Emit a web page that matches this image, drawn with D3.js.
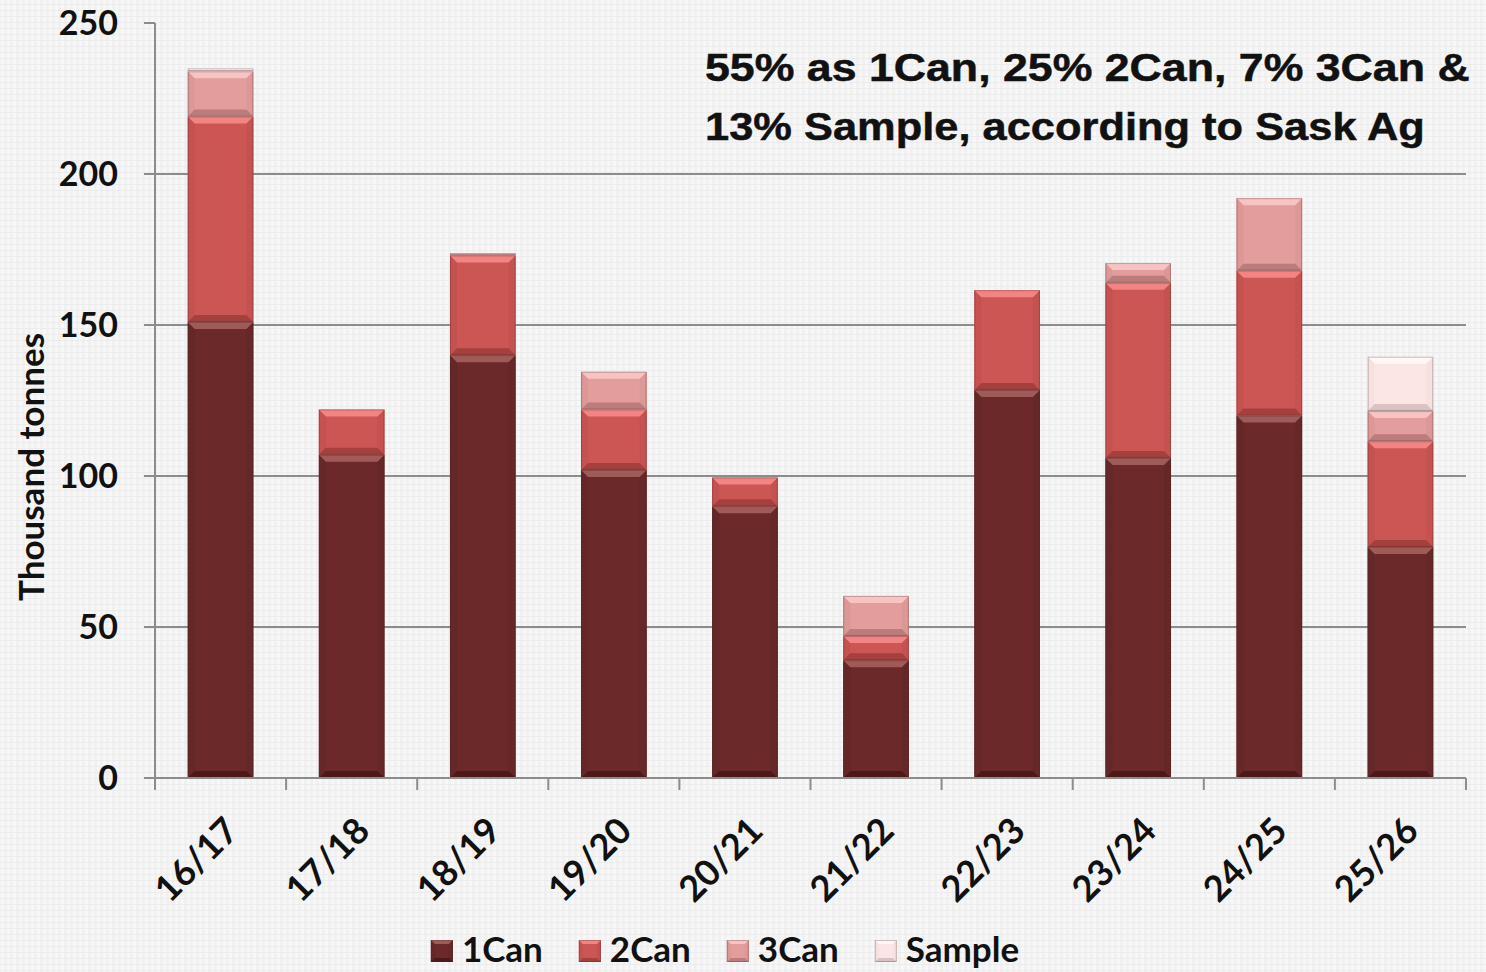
<!DOCTYPE html>
<html>
<head>
<meta charset="utf-8">
<script src="https://cdn.jsdelivr.net/npm/d3@7"></script>
<style>
  html, body { margin: 0; padding: 0; background: #f2f2f2; }
  svg { display: block; }
</style>
</head>
<body>
<svg id="chart" width="1486" height="972"></svg>
<script>
// Canola deliveries by grade, thousand tonnes per crop year
const seasons = ["16/17", "17/18", "18/19", "19/20", "20/21", "21/22", "22/23", "23/24", "24/25", "25/26"];
const can1   = [151, 107, 140, 102, 90, 39, 128.5, 106, 120, 76.5];
const can2   = [68, 15, 33, 20, 9.5, 8, 33, 58, 48, 35];
const can3   = [15, 0, 0.8, 12.5, 0, 13.3, 0, 6.5, 24, 10];
const sample = [1, 0, 0, 0, 0, 0, 0, 0, 0, 18];
const gradeNames = ["1Can", "2Can", "3Can", "Sample"];
const yTicks = [0, 50, 100, 150, 200, 250];
const gridValues = [50, 100, 150, 200];
const yTitle = "Thousand tonnes";
const noteLines = ["55% as 1Can, 25% 2Can, 7% 3Can &", "13% Sample, according to Sask Ag"];

// Bevelled fill palette per grade
const palette = {
  "1Can":   { face: "#6b2929", top: "#a05a58", bottom: "#4c1818", side: "#652727" },
  "2Can":   { face: "#cc5653", top: "#f28584", bottom: "#a4403e", side: "#c55250" },
  "3Can":   { face: "#e29d9c", top: "#f7c4c3", bottom: "#bb7c7b", side: "#dc9797" },
  "Sample": { face: "#fce5e5", top: "#fff6f6", bottom: "#d9c2c2", side: "#f7e0e0" }
};

const rows = seasons.map((s, i) => ({
  season: s, "1Can": can1[i], "2Can": can2[i], "3Can": can3[i], "Sample": sample[i]
}));

const svg = d3.select("#chart");
const W = 1486, H = 972;

// Background with fine woven texture
const defs = svg.append("defs");
const pat = defs.append("pattern").attr("id", "weave")
  .attr("width", 6).attr("height", 6).attr("patternUnits", "userSpaceOnUse");
pat.append("rect").attr("width", 6).attr("height", 6).attr("fill", "#f1f1f1");
pat.append("rect").attr("x", 1).attr("width", 3).attr("height", 6).attr("fill", "#f7f7f7");
pat.append("rect").attr("y", 4).attr("width", 6).attr("height", 1).attr("fill", "#ececec");
svg.append("rect").attr("width", W).attr("height", H).attr("fill", "url(#weave)");

const plot = { left: 155, right: 1466, top: 23, bottom: 778 };

const x = d3.scaleBand().domain(seasons)
  .range([plot.left, plot.right]).paddingInner(0.5).paddingOuter(0.25);
const y = d3.scaleLinear().domain([0, 250]).range([plot.bottom, plot.top]);

const gray = "#8c8c8c";

// Gridlines
svg.append("g").selectAll("line").data(gridValues).join("line")
  .attr("x1", plot.left).attr("x2", plot.right)
  .attr("y1", d => y(d)).attr("y2", d => y(d))
  .attr("stroke", gray).attr("stroke-width", 2);

// Stacked bars
const stack = d3.stack().keys(gradeNames);
const series = stack(rows);

function bevel(g, x0, x1, y0, y1, pal, size) {
  const h = y1 - y0;
  if (h <= 0) return;
  const b = Math.min(size, h / 2, (x1 - x0) / 2);
  g.append("rect").attr("x", x0).attr("y", y0).attr("width", x1 - x0).attr("height", h)
    .attr("fill", pal.face);
  const poly = (pts, fill) => g.append("polygon")
    .attr("points", pts.map(p => p.join(",")).join(" ")).attr("fill", fill);
  poly([[x0, y0], [x0 + b, y0 + b], [x0 + b, y1 - b], [x0, y1]], pal.side);
  poly([[x1, y0], [x1 - b, y0 + b], [x1 - b, y1 - b], [x1, y1]], pal.side);
  poly([[x0, y1], [x1, y1], [x1 - b, y1 - b], [x0 + b, y1 - b]], pal.bottom);
  poly([[x0, y0], [x1, y0], [x1 - b, y0 + b], [x0 + b, y0 + b]], pal.top);
  g.append("rect").attr("x", x0 + 0.5).attr("y", y0 + 0.5)
    .attr("width", x1 - x0 - 1).attr("height", Math.max(0, h - 1))
    .attr("fill", "none").attr("stroke", "rgba(60,40,40,0.28)").attr("stroke-width", 1);
}

const barLayer = svg.append("g");
series.forEach(s => {
  const pal = palette[s.key];
  s.forEach(d => {
    const x0 = x(d.data.season), x1 = x0 + x.bandwidth();
    bevel(barLayer.append("g"), x0, x1, y(d[1]), y(d[0]), pal, 7);
  });
});

// Axes
const axis = svg.append("g").attr("stroke", gray).attr("stroke-width", 2);
axis.append("line").attr("x1", plot.left).attr("x2", plot.left)
  .attr("y1", y(0)).attr("y2", y(250));
axis.selectAll(".ytick").data(yTicks).join("line").attr("class", "ytick")
  .attr("x1", plot.left - 11).attr("x2", plot.left)
  .attr("y1", d => y(d)).attr("y2", d => y(d));
axis.append("line").attr("x1", plot.left).attr("x2", plot.right)
  .attr("y1", y(0)).attr("y2", y(0));
const boundaries = d3.range(seasons.length + 1).map(i => plot.left + i * x.step());
axis.selectAll(".xtick").data(boundaries).join("line").attr("class", "xtick")
  .attr("x1", d => d).attr("x2", d => d)
  .attr("y1", y(0)).attr("y2", y(0) + 12);

// Y tick labels
svg.append("g").selectAll("text").data(yTicks).join("text")
  .attr("x", 118).attr("y", d => y(d)).attr("dy", "0.36em")
  .attr("text-anchor", "end")
  .attr("font-family", "Lato, 'Open Sans', sans-serif").attr("font-weight", 700)
  .attr("font-size", 34).attr("fill", "#111")
  .text(d => d);

// Y title
svg.append("text")
  .attr("transform", "translate(30,467) rotate(-90)")
  .attr("text-anchor", "middle").attr("dominant-baseline", "central")
  .attr("font-family", "Lato, 'Open Sans', sans-serif").attr("font-weight", 700)
  .attr("font-size", 35).attr("fill", "#111")
  .text(yTitle);

// Category labels, slanted
svg.append("g").selectAll("text").data(seasons).join("text")
  .attr("transform", d => `translate(${x(d) + x.bandwidth() / 2 + 20},${y(0) + 55}) rotate(-45)`)
  .attr("text-anchor", "end")
  .attr("font-family", "Lato, 'Open Sans', sans-serif").attr("font-weight", 700)
  .attr("font-size", 36).attr("fill", "#111")
  .text(d => d);

// Note, stretched horizontally to its line width
const note = svg.append("g");
const noteWidths = [765, 720];
noteLines.forEach((t, i) => {
  const g = note.append("g");
  const txt = g.append("text")
    .attr("x", 0).attr("y", 0)
    .attr("font-family", "'Liberation Sans', Arial, sans-serif").attr("font-weight", 700)
    .attr("font-size", 39).attr("fill", "#111")
    .attr("stroke", "#111").attr("stroke-width", 0.5)
    .text(t);
  const natural = txt.node().getComputedTextLength();
  g.attr("transform", `translate(705,${81 + i * 59}) scale(${noteWidths[i] / natural},1)`);
});

// Legend
const legend = svg.append("g");
let cursor = 0;
gradeNames.forEach(name => {
  const item = legend.append("g").attr("transform", `translate(${cursor},0)`);
  bevel(item, 0, 22, 940, 962, palette[name], 4);
  const t = item.append("text").attr("x", 31).attr("y", 962)
    .attr("font-family", "Lato, 'Open Sans', sans-serif").attr("font-weight", 700)
    .attr("font-size", 35).attr("fill", "#111").text(name);
  cursor += 31 + t.node().getComputedTextLength() + 36;
});
const legendWidth = cursor - 36;
legend.attr("transform", `translate(${725 - legendWidth / 2},0)`);
</script>
</body>
</html>
